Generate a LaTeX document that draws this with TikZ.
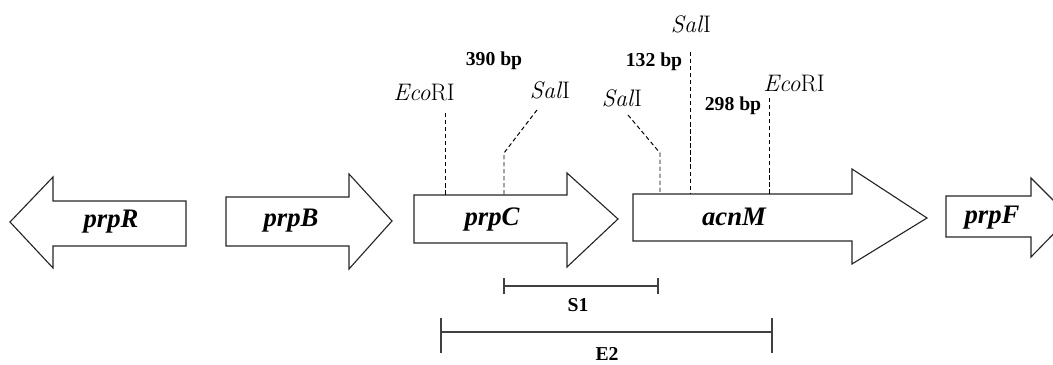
\documentclass[tikz,border=0pt]{standalone}
\usepackage{fontspec}
\newfontfamily\timesfont{Liberation Serif}
\tikzset{
  gene/.style={draw=black!85, fill=white, line width=0.8pt},
  genename/.style={font=\timesfont\bfseries\itshape\fontsize{19}{22}\selectfont},
  site/.style={font=\fontsize{17}{20}\selectfont, text=black},
  bplabel/.style={font=\timesfont\bfseries\fontsize{14}{16}\selectfont},
  fraglabel/.style={font=\timesfont\bfseries\fontsize{14}{16}\selectfont},
  cut/.style={densely dashed, line width=0.7pt, draw=black},
  frag/.style={draw=black!75, line width=1pt}
}
\begin{document}
\begin{tikzpicture}[x=0.025cm, y=-0.025cm]
        \useasboundingbox (0,0) rectangle (1053,365);

        % genes
        \draw[gene] (186,201) -- (53,201) -- (53,177) -- (10,222) -- (53,268) -- (53,246) -- (186,246) -- cycle;
        \draw[gene] (226,197) -- (349,197) -- (349,174) -- (392,221) -- (349,269) -- (349,246) -- (226,246) -- cycle;
        \draw[gene] (414,195) -- (567,195) -- (567,173) -- (618,219) -- (567,267) -- (567,243) -- (414,243) -- cycle;
        \draw[gene] (633,194) -- (852,194) -- (852,169) -- (927,218) -- (852,264) -- (852,241) -- (633,241) -- cycle;
        \draw[gene] (946,196) -- (1031,196) -- (1031,178) -- (1070,217) -- (1031,257) -- (1031,237) -- (946,237) -- cycle;

        \node[genename] (prpR) at (111,222) {prpR};
        \node[genename] (prpB) at (291,221) {prpB};
        \node[genename] (prpC) at (492,220) {prpC};
        \node[genename] (acnM) at (734,217) {acnM};
        \node[genename] (prpF) at (992,218) {prpF};

        % restriction sites
        \node[site] (ecoA) at (424,93) {\textit{Eco}RI};
        \node[site] (salA) at (550,90) {\textit{Sal}I};
        \node[site] (salB) at (622,98) {\textit{Sal}I};
        \node[site] (salC) at (691,24) {\textit{Sal}I};
        \node[site] (ecoB) at (794,84) {\textit{Eco}RI};

        \coordinate (ecoAtop) at (445,113);
        \coordinate (ecoAcut) at (445,195);
        \coordinate (salAtop) at (537,110);
        \coordinate (salAbend) at (504,153);
        \coordinate (salAcut) at (504,195);
        \coordinate (salBtop) at (628,115);
        \coordinate (salBbend) at (660,153);
        \coordinate (salBcut) at (660,194);
        \coordinate (salCtop) at (690,52);
        \coordinate (salCcut) at (690,194);
        \coordinate (ecoBtop) at (769,98);
        \coordinate (ecoBcut) at (769,194);

        \draw[cut] (ecoAtop) -- (ecoAcut);
        \draw[cut] (salAtop) -- (salAbend) -- (salAcut);
        \draw[cut] (salBtop) -- (salBbend) -- (salBcut);
        \draw[cut] (salCtop) -- (salCcut);
        \draw[cut] (ecoBtop) -- (ecoBcut);

        \node[bplabel] (bp390) at (494,61) {390 bp};
        \node[bplabel] (bp132) at (654,62) {132 bp};
        \node[bplabel] (bp298) at (733,106) {298 bp};

        % fragments
        \coordinate (s1a) at (504,286);
        \coordinate (s1b) at (658,286);
        \draw[frag] (s1a) -- (s1b);
        \draw[frag] ([yshift=-6]s1a) -- ([yshift=6]s1a);
        \draw[frag] ([yshift=-6]s1b) -- ([yshift=6]s1b);
        \node[fraglabel] (S1) at (578,305) {S1};

        \coordinate (e2a) at (441,332);
        \coordinate (e2b) at (772,332);
        \draw[frag] (e2a) -- (e2b);
        \draw[frag] ([yshift=-15]e2a) -- ([yshift=10]e2a);
        \draw[frag] ([yshift=-15]e2b) -- ([yshift=10]e2b);
        \node[fraglabel, inner sep=1pt] (E2) at (607,354) {E2};
    \end{tikzpicture}
\end{document}
